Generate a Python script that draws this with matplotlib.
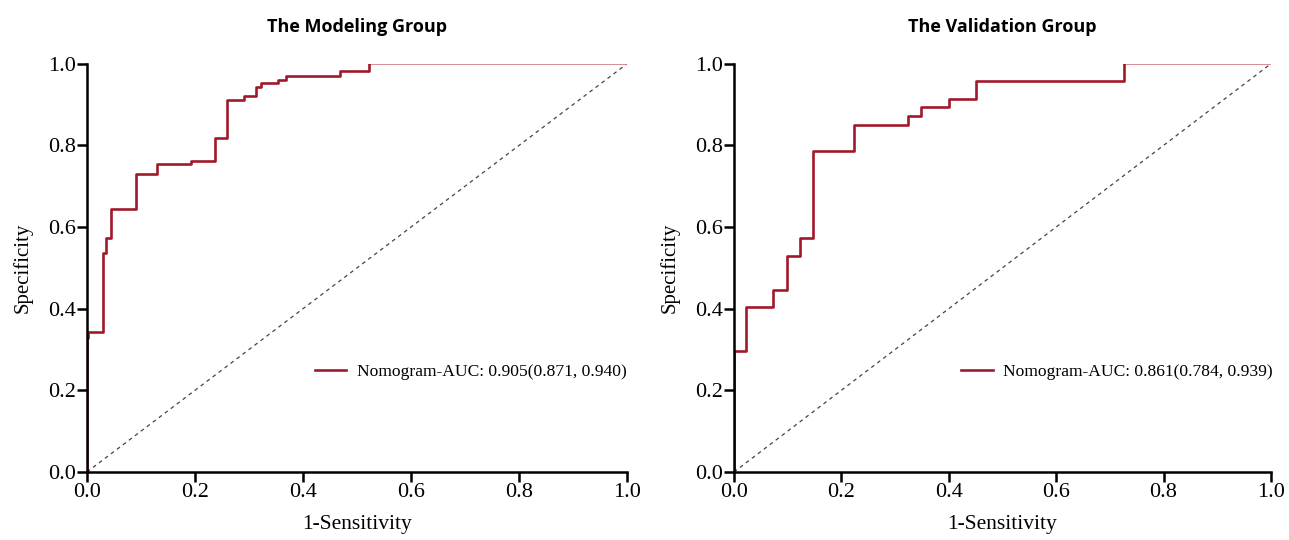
import matplotlib
matplotlib.use('Agg')
import matplotlib.pyplot as plt

# ROC points (x = 1-Sensitivity, y = Specificity)
mod_x = [0, 0, 0.002, 0.029, 0.036, 0.044, 0.091, 0.130, 0.192, 0.237, 0.260,
         0.291, 0.313, 0.322, 0.353, 0.369, 0.469, 0.523]
mod_y = [0, 0.328, 0.343, 0.537, 0.574, 0.645, 0.730, 0.754, 0.762, 0.818, 0.912,
         0.920, 0.944, 0.953, 0.959, 0.969, 0.983, 1.0]

val_x = [0, 0, 0.022, 0.073, 0.098, 0.123, 0.148, 0.224, 0.325, 0.349, 0.400,
         0.451, 0.726]
val_y = [0, 0.297, 0.404, 0.446, 0.530, 0.574, 0.787, 0.850, 0.873, 0.893, 0.914,
         0.957, 1.0]

titles = ['The Modeling Group', 'The Validation Group']
labels = ['Nomogram-AUC: 0.905(0.871, 0.940)', 'Nomogram-AUC: 0.861(0.784, 0.939)']
ticks = [0.0, 0.2, 0.4, 0.6, 0.8, 1.0]

red = '#a0192a'
serif = 'Liberation Serif'

fig = plt.figure(figsize=(12.89, 5.4), dpi=100)
ax1 = fig.add_axes([0.0675, 0.126, 0.419, 0.756])
ax2 = fig.add_axes([0.5694, 0.126, 0.4166, 0.756])

data = [(mod_x, mod_y), (val_x, val_y)]
leg_pos = [(0.422, 0.245), (0.423, 0.245)]

for ax, (xs, ys), title, lab, lp in zip([ax1, ax2], data, titles, labels, leg_pos):
    ax.plot([0, 1], [0, 1], linestyle=(0, (3, 3)), color='#444444', linewidth=0.9)
    ax.plot([xs[-1], 1], [ys[-1], 1], color='#d07a80', linewidth=1.2)
    ax.plot(xs, ys, drawstyle='steps-post', color=red, linewidth=1.9, label=lab)

    ax.set_xlim(0, 1)
    ax.set_ylim(0, 1)
    ax.set_xticks(ticks)
    ax.set_yticks(ticks)
    ax.set_xticklabels(['%.1f' % t for t in ticks], fontfamily=serif, fontsize=16)
    ax.set_yticklabels(['%.1f' % t for t in ticks], fontfamily=serif, fontsize=16)
    ax.tick_params(direction='out', length=7, width=1.8, color='black', pad=1)
    for s in ['top', 'right']:
        ax.spines[s].set_visible(False)
    for s in ['left', 'bottom']:
        ax.spines[s].set_linewidth(1.8)
    ax.set_xlabel('1-Sensitivity', fontfamily=serif, fontsize=15.5, labelpad=9)
    ax.set_ylabel('Specificity', fontfamily=serif, fontsize=15, labelpad=11)
    ax.set_title(title, fontfamily='Open Sans', fontweight='bold', fontsize=13, pad=23)
    ax.legend(loc='center left', bbox_to_anchor=lp, frameon=False,
              borderpad=0, borderaxespad=0, handlelength=1.8, handletextpad=0.6,
              prop={'family': serif, 'size': 12.6})

fig.savefig('out.png', dpi=100)
